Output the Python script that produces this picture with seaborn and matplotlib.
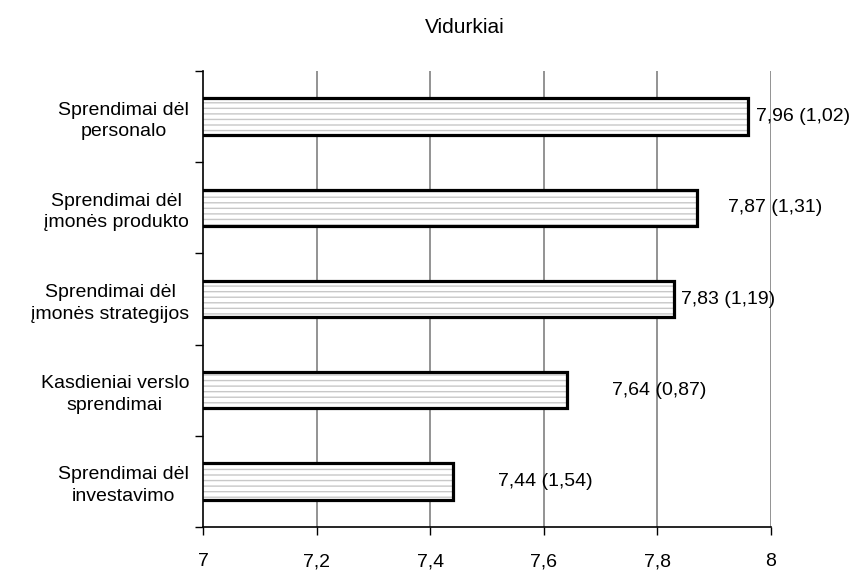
import matplotlib
matplotlib.use('Agg')
import matplotlib.pyplot as plt
import seaborn as sns
import pandas as pd

categories = ['Sprendimai dėl\npersonalo', 'Sprendimai dėl\nįmonės produkto',
              'Sprendimai dėl\nįmonės strategijos', 'Kasdieniai verslo\nsprendimai',
              'Sprendimai dėl\ninvestavimo']
means = [7.96, 7.87, 7.83, 7.64, 7.44]
sds = [1.02, 1.31, 1.19, 0.87, 1.54]
# where the value labels start, as offset from bar end (data units)
label_offsets = [0.013, 0.055, 0.011, 0.08, 0.08]
x_ticks = [7, 7.2, 7.4, 7.6, 7.8, 8]

sns.set_theme(style='white')
plt.rcParams['font.family'] = ['Liberation Sans', 'DejaVu Sans']
plt.rcParams['hatch.linewidth'] = 1.0
plt.rcParams['text.color'] = 'black'
plt.rcParams['xtick.color'] = 'black'
plt.rcParams['ytick.color'] = 'black'

FS = 14

df = pd.DataFrame({'cat': categories, 'mean': means})

fig = plt.figure(figsize=(8.52, 5.7), dpi=100)
ax = fig.add_axes([0.2383, 0.0754, 0.6667, 0.8])

# hatched fill (grey lines), then black outline on top
sns.barplot(data=df, x='mean', y='cat', orient='h', width=0.4, ax=ax,
            color='white', edgecolor='#c8c8c8', hatch='---', linewidth=0)
sns.barplot(data=df, x='mean', y='cat', orient='h', width=0.4, ax=ax,
            fill=False, edgecolor='black', linewidth=2.3)

ax.set_xlim(7, 8)
ax.set_ylim(4.5, -0.5)
ax.set_xticks(x_ticks)
ax.set_xticklabels([f'{t:g}'.replace('.', ',') for t in x_ticks], fontsize=FS)
ax.tick_params(axis='x', length=6, width=1, direction='out', pad=13, bottom=True)
ax.set_yticks(range(len(categories)))
ax.set_yticklabels(categories, fontsize=FS, ha='right', multialignment='center',
                   linespacing=1.35)
ax.set_yticks([i - 0.5 for i in range(len(categories) + 1)], minor=True)
ax.tick_params(axis='y', which='major', length=0, pad=10)
ax.tick_params(axis='y', which='minor', length=6, width=1, direction='out', left=True)

for t in x_ticks[1:]:
    ax.axvline(t, color='#808080', lw=1.2, zorder=0)

ax.set_xlabel('')
ax.set_ylabel('')
for s in ['top', 'right']:
    ax.spines[s].set_visible(False)
for s in ['left', 'bottom']:
    ax.spines[s].set_color('black')
    ax.spines[s].set_linewidth(1.2)

for i, (m, sd, off) in enumerate(zip(means, sds, label_offsets)):
    txt = f'{m:.2f} ({sd:.2f})'.replace('.', ',')
    ax.text(m + off, i, txt, ha='left', va='center', fontsize=FS, clip_on=False)

fig.text(0.546, 0.952, 'Vidurkiai', ha='center', va='center', fontsize=FS + 1)

fig.savefig('out.png', dpi=100)
